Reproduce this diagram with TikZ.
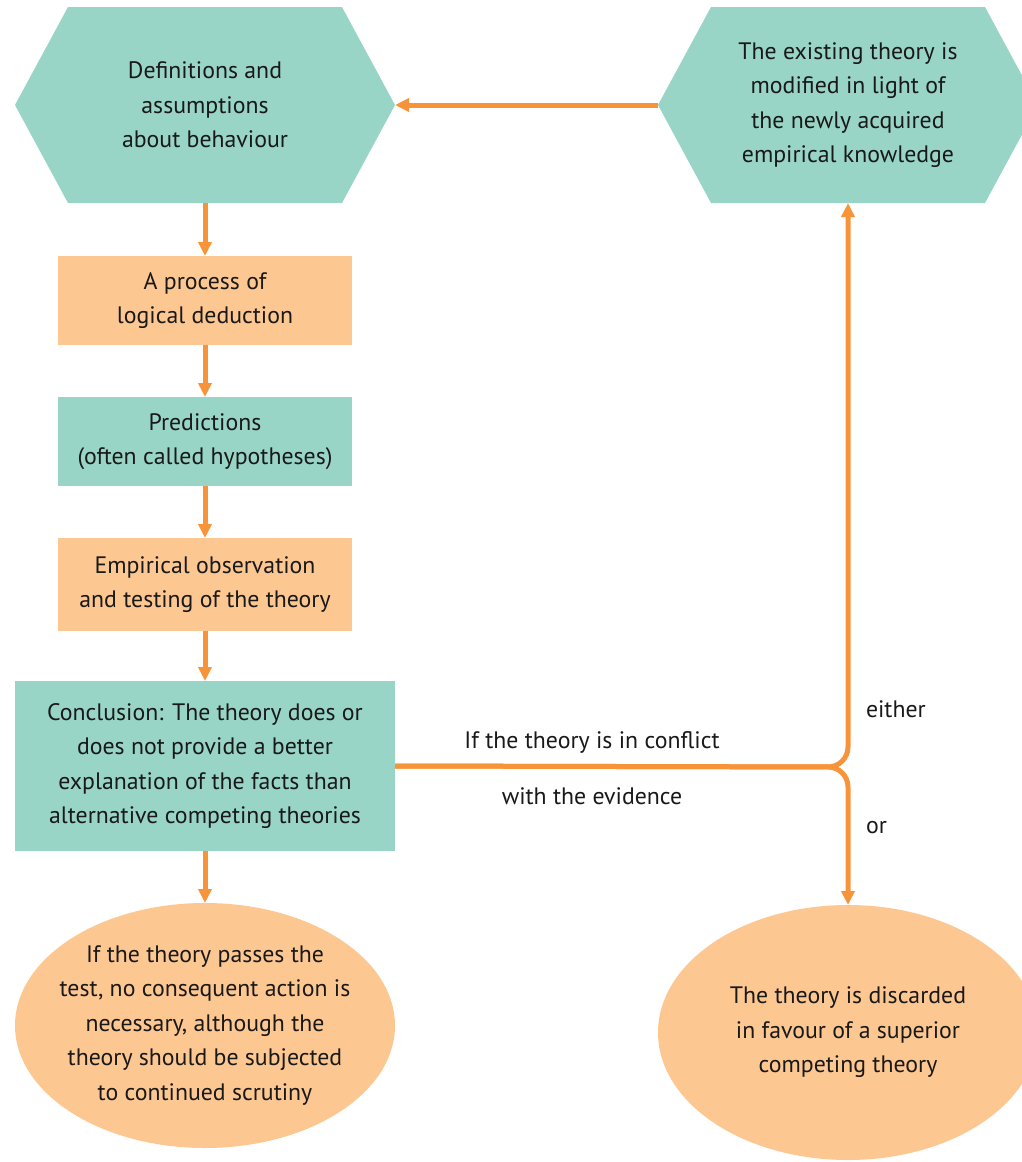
\documentclass[tikz,border=0pt]{standalone}
\usepackage{fontspec}
\setmainfont{PT Sans}
\usetikzlibrary{arrows.meta}
\definecolor{teal1}{HTML}{98D5C6}
\definecolor{peach}{HTML}{FDC792}
\definecolor{arrorange}{HTML}{F7943A}
\begin{document}
\begin{tikzpicture}[x=0.5pt,y=-0.5pt,
  every node/.style={outer sep=0pt, inner sep=0pt, align=center, text=black!90,
    font=\fontsize{11.9pt}{17.25pt}\selectfont},
  hexa/.style={rectangle, minimum width=190pt, minimum height=98pt,
    path picture={\fill[teal1] (path picture bounding box.west)
      -- ([xshift=26.5pt]path picture bounding box.north west)
      -- ([xshift=-26.5pt]path picture bounding box.north east)
      -- (path picture bounding box.east)
      -- ([xshift=-26.5pt]path picture bounding box.south east)
      -- ([xshift=26.5pt]path picture bounding box.south west) -- cycle;}},
  tealbox/.style={rectangle, fill=teal1, minimum width=147pt},
  peachbox/.style={rectangle, fill=peach, minimum width=147pt},
  oval/.style={rectangle, minimum width=190pt, minimum height=2*#1,
    path picture={\fill[peach] (path picture bounding box.center)
      ellipse [x radius=95pt, y radius=#1];}},
  >={Triangle[length=7pt,width=6.5pt]}]
\useasboundingbox (0,0) rectangle (1022,1162);
\node[hexa] (1) at (205,105) {Definitions and\\assumptions\\about behaviour};
\node[peachbox, minimum height=44.5pt] (2) at (205,300.5) {A process of\\logical deduction};
\node[tealbox, minimum height=44.5pt] (3) at (205,441.5) {Predictions\\(often called hypotheses)};
\node[peachbox, minimum height=46.5pt] (4) at (205,584.5) {Empirical observation\\and testing of the theory};
\node[tealbox, minimum width=190pt, minimum height=85pt] (5) at (205,766) {Conclusion: The theory does or\\does not provide a better\\explanation of the facts than\\alternative competing theories};
\node[oval=61.25pt] (6) at (205,1025.5) {If the theory passes the\\test, no consequent action is\\necessary, although the\\theory should be subjected\\to continued scrutiny};
\node[hexa] (7) at (848,105) {The existing theory is\\modified in light of\\the newly acquired\\empirical knowledge};
\node[oval=63.75pt] (8) at (848,1032.5) {The theory is discarded\\in favour of a superior\\competing theory};

\coordinate (j) at (848,767);
\node (c1) at (592,742) {If the theory is in conflict};
\node (c2) at (592,796) {with the evidence};
\node[anchor=west] (e) at (866,709) {either};
\node[anchor=west] (o) at (866,828) {or};

\path[draw,line width=2.5pt,arrorange,->] (7.west) -- (1.east);
\path[draw,line width=2.5pt,arrorange,->] (1.south) -- (2.north);
\path[draw,line width=2.5pt,arrorange,->] (2.south) -- (3.north);
\path[draw,line width=2.5pt,arrorange,->] (3.south) -- (4.north);
\path[draw,line width=2.5pt,arrorange,->] (4.south) -- (5.north);
\path[draw,line width=2.5pt,arrorange,->] (5.south) -- (6.north);
\path[draw,line width=2.5pt,arrorange,rounded corners=10pt,->] (5.east) -- (j) -- (7.south);
\path[draw,line width=2.5pt,arrorange,rounded corners=10pt,->] (5.east) -- (j) -- (8.north);
\end{tikzpicture}
\end{document}
